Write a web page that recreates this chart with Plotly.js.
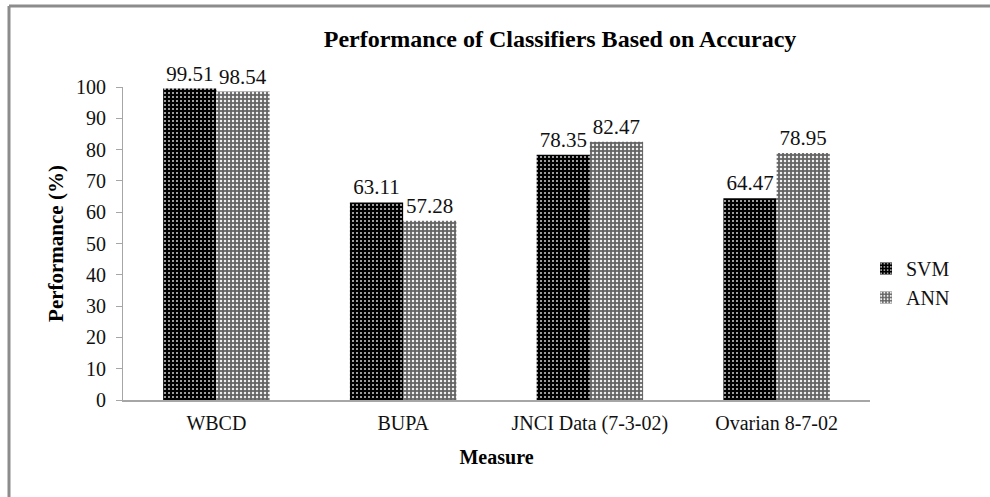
<!DOCTYPE html>
<html>
<head>
<meta charset="utf-8">
<script src="https://cdn.plot.ly/plotly-3.0.1.min.js"></script>
<style>
  html, body { margin: 0; padding: 0; background: #fff; }
  #chart { width: 990px; height: 497px; }
</style>
</head>
<body>
<div id="chart"></div>
<script>
// Accuracy of each classifier per dataset
const measures = ['WBCD', 'BUPA', 'JNCI Data (7-3-02)', 'Ovarian 8-7-02'];
const svmValues = [99.51, 63.11, 78.35, 64.47];
const annValues = [98.54, 57.28, 82.47, 78.95];
const seriesNames = ['SVM', 'ANN'];

const serif = 'Liberation Serif, Times New Roman, serif';

const svm = {
  type: 'bar',
  name: seriesNames[0],
  x: measures,
  y: svmValues,
  text: svmValues.map(v => v.toFixed(2)),
  textposition: 'outside',
  cliponaxis: false,
  textfont: { family: serif, size: 21, color: '#111' },
  marker: {
    color: '#000',
    pattern: { shape: '.', bgcolor: '#000', fgcolor: '#d0d0d0', size: 4, solidity: 0.2 }
  },
  hoverinfo: 'x+y'
};

const ann = {
  type: 'bar',
  name: seriesNames[1],
  x: measures,
  y: annValues,
  text: annValues.map(v => v.toFixed(2)),
  textposition: 'outside',
  cliponaxis: false,
  textfont: { family: serif, size: 21, color: '#111' },
  marker: {
    color: '#6e6e6e',
    pattern: { shape: '.', bgcolor: '#646464', fgcolor: '#f0f0f0', size: 4, solidity: 0.3 }
  },
  hoverinfo: 'x+y'
};

// Outer frame drawn in paper coordinates (plot area spans x 123-870, y 87-400 px)
const L = 123, R = 870, T = 87, B = 400;
const px = v => (v - L) / (R - L);
const py = v => (B - v) / (B - T);

const layout = {
  width: 990,
  height: 497,
  margin: { l: L, r: 990 - R, t: T, b: 497 - B },
  paper_bgcolor: '#fff',
  plot_bgcolor: '#fff',
  barmode: 'group',
  bargap: 0.43,
  bargroupgap: 0,
  showlegend: true,
  font: { family: serif, color: '#111' },
  title: {
    text: '<b>Performance of Classifiers Based on Accuracy</b>',
    font: { family: serif, size: 24, color: '#000' },
    x: px(560), xref: 'paper', xanchor: 'center',
    y: 1 - 39 / 497, yanchor: 'middle'
  },
  xaxis: {
    showgrid: false,
    showline: true,
    linecolor: '#a6a6a6',
    linewidth: 2,
    ticks: '',
    ticklabelstandoff: 4,
    tickfont: { family: serif, size: 20, color: '#111' },
    title: { text: '<b>Measure</b>', font: { family: serif, size: 20, color: '#000' }, standoff: 16 },
    fixedrange: true
  },
  yaxis: {
    range: [0, 100],
    dtick: 10,
    showgrid: false,
    zeroline: false,
    showline: true,
    linecolor: '#a6a6a6',
    linewidth: 1,
    ticks: 'outside',
    ticklen: 6,
    tickcolor: '#a6a6a6',
    ticklabelstandoff: 6,
    tickfont: { family: serif, size: 20, color: '#111' },
    title: { text: '<b>Performance (%)</b>', font: { family: serif, size: 21, color: '#000' }, standoff: 6 },
    fixedrange: true
  },
  legend: {
    x: px(866), xanchor: 'left',
    y: py(283), yanchor: 'middle',
    font: { family: serif, size: 20, color: '#111' },
    itemwidth: 30,
    tracegroupgap: 4,
    bgcolor: 'rgba(0,0,0,0)'
  },
  shapes: [
    { type: 'line', xref: 'paper', yref: 'paper', x0: px(9), x1: px(1000), y0: py(6), y1: py(6),
      line: { color: '#8c8c8c', width: 3 } },
    { type: 'line', xref: 'paper', yref: 'paper', x0: px(9), x1: px(9), y0: py(6), y1: py(510),
      line: { color: '#8c8c8c', width: 3 } }
  ]
};

Plotly.newPlot('chart', [svm, ann], layout, { displayModeBar: false, staticPlot: true });
</script>
</body>
</html>
